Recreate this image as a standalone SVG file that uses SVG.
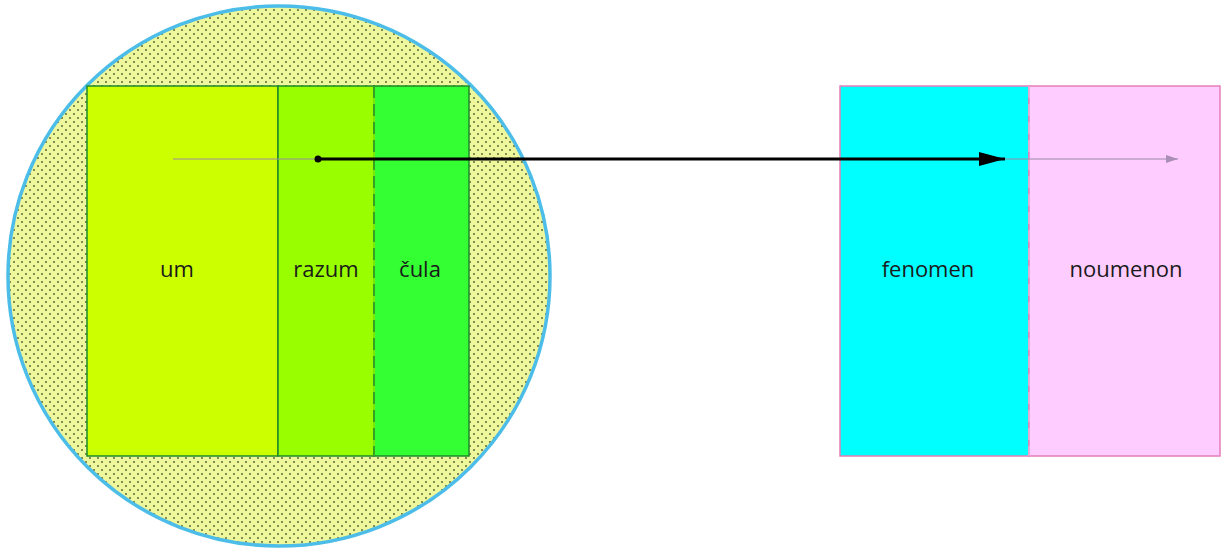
<svg xmlns="http://www.w3.org/2000/svg" width="1224" height="549" viewBox="0 0 1224 549">
<style>
.lbl{font-family:"Open Sans","Liberation Sans",sans-serif;font-size:22px;fill:#1a1a1a;text-anchor:middle}
.grn{stroke:#1f8a2a;stroke-width:1.5}
.pnk{stroke:#e57fb8;stroke-width:1.5}
</style>
<defs>
<pattern id="dots" width="8" height="8" patternUnits="userSpaceOnUse">
<rect width="8" height="8" fill="#eef79c"/>
<circle cx="2" cy="2" r="1" fill="#5d6b3a"/>
<circle cx="6" cy="6" r="1" fill="#5d6b3a"/>
</pattern>
<marker id="bigHead" markerWidth="26" markerHeight="14" refX="26" refY="7" orient="auto" markerUnits="userSpaceOnUse">
<path d="M0,0 L26,7 L0,14 Z" fill="#000"/>
</marker>
<marker id="smallHead" markerWidth="12" markerHeight="8" refX="12" refY="4" orient="auto" markerUnits="userSpaceOnUse">
<path d="M0,0 L12,4 L0,8 Z" fill="#a98fb5"/>
</marker>
</defs>
<g id="mind">
<ellipse cx="279" cy="276" rx="271" ry="270" fill="url(#dots)" stroke="#4cbde8" stroke-width="3.5"/>
</g>
<g id="um">
<rect x="87" y="86" width="191" height="370" fill="#ccff00" class="grn"/>
<text class="lbl" x="177" y="277">um</text>
</g>
<g id="razum">
<rect x="278" y="86" width="96" height="370" fill="#99ff00" class="grn"/>
<text class="lbl" x="326" y="277">razum</text>
</g>
<g id="cula">
<rect x="374" y="86" width="95" height="370" fill="#33ff33" class="grn"/>
<line x1="374" y1="86" x2="374" y2="456" stroke="#99ff00" stroke-width="1.5"/>
<line x1="374" y1="86" x2="374" y2="456" stroke="#1f8a2a" stroke-width="1.5" stroke-dasharray="12,6"/>
<text class="lbl" x="420" y="277">čula</text>
</g>
<g id="fenomen">
<rect x="840" y="86" width="189" height="370" fill="#00ffff" class="pnk"/>
<text class="lbl" x="928" y="277">fenomen</text>
</g>
<g id="noumenon">
<rect x="1029" y="86" width="191" height="370" fill="#ffccff" class="pnk"/>
<line x1="1029" y1="86" x2="1029" y2="456" stroke="#e9b0d8" stroke-width="1.5" stroke-dasharray="12,6"/>
<text class="lbl" x="1126" y="277">noumenon</text>
</g>
<g id="connectors">
<line x1="173" y1="159" x2="1178" y2="159" stroke="#9a8aa6" stroke-width="1.2" marker-end="url(#smallHead)"/>
<line x1="318" y1="159" x2="1005" y2="159" stroke="#000" stroke-width="3" marker-end="url(#bigHead)"/>
<circle cx="318" cy="159" r="3.5" fill="#000"/>
</g>
</svg>
